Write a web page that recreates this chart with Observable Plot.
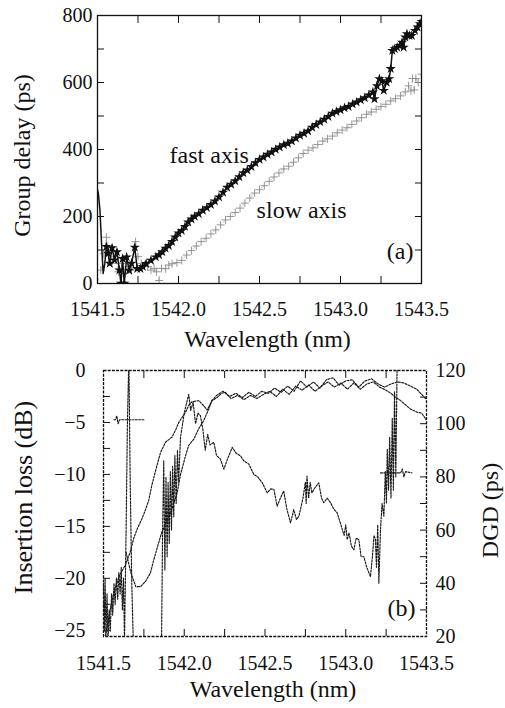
<!DOCTYPE html>
<html><head><meta charset="utf-8">
<script src="https://cdn.jsdelivr.net/npm/d3@7"></script>
<script src="https://cdn.jsdelivr.net/npm/@observablehq/plot@0.6"></script>
<style>
body{margin:0;background:#fff;}
#wrap{width:505px;height:708px;overflow:hidden;}
#wrap svg, #wrap svg text{font-family:"Liberation Serif","DejaVu Serif",serif !important;}
#b{position:relative;width:505px;height:353px;}
#b svg{position:absolute;left:0;top:0;}
</style></head><body>
<div id="wrap"><div id="a"></div><div id="b"></div></div>
<script>
// ---- Panel (a): group delay ----
const wlFast = [1541.500,1541.505,1541.515,1541.525,1541.535,1541.545,1541.555,1541.565,1541.575,1541.590,1541.605,1541.620,1541.635,1541.645,1541.655,1541.665,1541.680,1541.695,1541.710,1541.730,1541.745,1541.765,1541.780,1541.800,1541.830,1541.860,1541.880,1541.900,1541.920,1541.940,1541.960,1541.980,1542.000,1542.020,1542.040,1542.060,1542.080,1542.100,1542.125,1542.150,1542.175,1542.200,1542.225,1542.250,1542.275,1542.300,1542.325,1542.350,1542.375,1542.400,1542.425,1542.450,1542.475,1542.500,1542.525,1542.550,1542.575,1542.600,1542.625,1542.650,1542.675,1542.700,1542.725,1542.750,1542.775,1542.800,1542.825,1542.850,1542.875,1542.900,1542.925,1542.950,1542.975,1543.000,1543.025,1543.050,1543.075,1543.100,1543.125,1543.150,1543.175,1543.200,1543.210,1543.225,1543.240,1543.255,1543.267,1543.285,1543.300,1543.310,1543.320,1543.335,1543.350,1543.365,1543.380,1543.390,1543.400,1543.410,1543.425,1543.440,1543.460,1543.475,1543.490,1543.500];
const gdFast = [280,270,220,120,30,60,110,90,60,106,70,94,40,0,74,0,79,39,60,108,44,44,50,59,69,79,85,94,105,113,125,138,150,158,170,183,192,200,208,218,226,235,246,258,272,287,296,306,318,330,338,349,360,370,377,385,392,400,407,414,418,425,434,442,448,455,466,474,482,490,498,508,513,518,524,528,535,541,548,554,562,571,551,590,611,605,576,600,611,641,695,700,705,710,720,705,735,745,740,740,755,765,775,782];
const wlSlow = [1541.500,1541.520,1541.540,1541.555,1541.570,1541.590,1541.610,1541.630,1541.650,1541.670,1541.690,1541.710,1541.735,1541.750,1541.770,1541.790,1541.810,1541.830,1541.850,1541.865,1541.880,1541.895,1541.920,1541.940,1541.960,1541.990,1542.020,1542.050,1542.080,1542.110,1542.140,1542.170,1542.200,1542.230,1542.260,1542.290,1542.320,1542.350,1542.380,1542.410,1542.440,1542.470,1542.500,1542.530,1542.560,1542.590,1542.620,1542.650,1542.680,1542.710,1542.740,1542.770,1542.800,1542.830,1542.860,1542.890,1542.920,1542.950,1542.980,1543.010,1543.040,1543.070,1543.100,1543.130,1543.160,1543.190,1543.220,1543.250,1543.280,1543.310,1543.340,1543.370,1543.400,1543.420,1543.435,1543.445,1543.455,1543.465,1543.480,1543.500];
const gdSlow = [0,40,90,138,100,60,80,35,60,30,50,40,125,80,60,55,50,40,45,35,9,45,44,55,59,62,69,85,98,112,125,135,148,160,175,190,200,212,225,240,255,270,280,292,305,318,330,342,350,362,375,388,398,405,415,425,432,440,450,458,465,475,485,495,505,512,520,528,535,545,552,560,572,590,575,612,578,612,600,625];

// ---- Panel (b): insertion loss (left axis) and DGD (right axis) ----
const wlIL1 = [1541.510,1541.530,1541.550,1541.570,1541.600,1541.636,1541.667,1541.688,1541.710,1541.740,1541.760,1541.780,1541.800,1541.830,1541.853,1541.884,1541.925,1541.950,1541.966,1542.008,1542.030,1542.049,1542.090,1542.121,1542.142,1542.173,1542.204,1542.230,1542.255,1542.290,1542.330,1542.370,1542.410,1542.450,1542.490,1542.530,1542.570,1542.610,1542.650,1542.690,1542.730,1542.770,1542.810,1542.850,1542.890,1542.930,1542.970,1543.010,1543.050,1543.090,1543.130,1543.170,1543.210,1543.250,1543.280,1543.310,1543.340,1543.370,1543.400,1543.440,1543.470,1543.500];
const il1 = [-25.6,-24.0,-22.3,-21.0,-19.7,-18.7,-17.4,-16.1,-15.2,-14.2,-13.4,-12.5,-11.0,-9.2,-7.9,-6.9,-6.4,-5.6,-5.0,-4.0,-3.3,-3.0,-2.9,-3.4,-3.8,-2.9,-2.6,-2.2,-2.1,-2.7,-2.4,-2.8,-2.4,-2.7,-2.3,-2.0,-2.5,-1.8,-2.3,-1.5,-1.9,-1.4,-2.0,-1.5,-1.1,-1.6,-1.2,-1.8,-1.2,-1.8,-1.3,-1.1,-1.6,-1.9,-2.2,-2.6,-2.9,-3.3,-3.7,-4.0,-4.1,-4.8];
const wlIL2 = [1541.640,1541.670,1541.700,1541.730,1541.760,1541.790,1541.810,1541.830,1541.860,1541.915,1541.956,1541.977,1542.008,1542.028,1542.059,1542.090,1542.121,1542.152,1542.170,1542.200,1542.240,1542.280,1542.320,1542.360,1542.400,1542.440,1542.480,1542.520,1542.560,1542.600,1542.640,1542.680,1542.720,1542.760,1542.800,1542.840,1542.880,1542.920,1542.960,1543.000,1543.040,1543.080,1543.120,1543.160,1543.200,1543.240,1543.280,1543.320,1543.360,1543.400,1543.440,1543.470,1543.500];
const il2 = [-17.5,-19.5,-20.8,-20.8,-20.3,-19.5,-18.3,-17.2,-15.6,-13.7,-11.8,-10.0,-8.2,-7.2,-6.6,-5.6,-4.8,-3.7,-2.9,-2.4,-2.0,-2.5,-2.2,-2.6,-2.1,-2.5,-2.0,-2.2,-1.7,-2.1,-1.5,-2.0,-1.0,-1.6,-1.1,-1.7,-0.9,-0.7,-1.4,-1.0,-0.9,-1.6,-1.0,-0.8,-1.3,-1.6,-1.3,-1.1,-1.2,-1.5,-1.8,-2.3,-2.8];
const wlDGD = [1541.500,1541.505,1541.510,1541.515,1541.522,1541.528,1541.535,1541.542,1541.550,1541.557,1541.565,1541.572,1541.580,1541.588,1541.595,1541.603,1541.610,1541.617,1541.624,1541.630,1541.640,1541.648,1541.657,1541.665,1541.675,1541.688,1541.750,1541.858,1541.866,1541.873,1541.880,1541.887,1541.894,1541.900,1541.907,1541.914,1541.921,1541.928,1541.935,1541.942,1541.950,1541.958,1541.965,1541.977,1541.990,1542.000,1542.015,1542.028,1542.040,1542.055,1542.070,1542.085,1542.100,1542.115,1542.130,1542.145,1542.160,1542.183,1542.200,1542.224,1542.245,1542.270,1542.297,1542.320,1542.348,1542.370,1542.400,1542.430,1542.455,1542.483,1542.514,1542.535,1542.555,1542.575,1542.595,1542.616,1542.635,1542.658,1542.678,1542.695,1542.710,1542.735,1542.750,1542.755,1542.760,1542.770,1542.780,1542.790,1542.810,1542.833,1542.850,1542.864,1542.885,1542.906,1542.925,1542.947,1542.970,1542.990,1543.000,1543.009,1543.020,1543.035,1543.050,1543.065,1543.081,1543.095,1543.112,1543.130,1543.153,1543.165,1543.175,1543.184,1543.190,1543.198,1543.205,1543.215,1543.225,1543.236,1543.245,1543.252,1543.257,1543.265,1543.272,1543.280,1543.288,1543.295,1543.302,1543.310,1543.318,1543.330];
const dgd = [40,22,42,20,36,18,30,22,36,28,40,32,42,34,44,36,46,30,42,18,60,100,125,80,40,10,5,10,60,86,45,80,50,78,55,82,60,84,65,88,70,90,78,95,100,104,108,111,105,108,100,104,103,98,90,96,92,93,88,86.7,82.9,87,91.1,89,87.9,86,84.8,81,80,77.8,74,75.5,75.3,69,72,74.7,68,62.7,67.7,64,65.2,72,78,70,80.3,72,78,74,76,77.8,72,70.3,72,70.3,68,66.5,62,58,62,56.4,59,54,52.6,57,56.4,50,50,46,42.5,50,58,56.4,46,62,40,60,70,65.2,82,70,90.5,75,95,72,102,75,112,80,122,130];
const wlFlatL = [1541.564,1541.575,1541.582,1541.590,1541.600,1541.750];
const dgdFlatL = [101.5,101.5,103,100,101.5,101.5];
const wlFlatR = [1543.215,1543.340,1543.350,1543.360,1543.370,1543.410];
const dgdFlatR = [81.5,81.5,83,80,82,81.5];

// ---- Ticks ----
const xMajor = [1541.5,1542.0,1542.5,1543.0,1543.5];
const xMinor = [1541.75,1542.0,1542.25,1542.5,1542.75,1543.0,1543.25];
const gdMajor = [0,200,400,600,800];
const gdMinor = [100,200,300,400,500,600,700];
const ilMajor = [0,-5,-10,-15,-20,-25];
const ilMinor = [-2.5,-5,-7.5,-10,-12.5,-15,-17.5,-20,-22.5,-25];
const dgdMajor = [20,40,60,80,100,120];
const dgdMinor = [30,40,50,60,70,80,90,100,110];

const rows = (xs, ys) => xs.map((x, i) => ({wl: x, v: ys[i]}));
const FONT = "Liberation Serif";
const INK = "#111";
const tickOnly = {fill: "none", stroke: INK, tickSize: -7, label: null};
const lbl = (s, o) => Plot.text([s], {fill: INK, fontSize: 24, lineAnchor: "middle", textAnchor: "middle", ...o});

const topPlot = Plot.plot({
  width: 505, height: 355, marginLeft: 97, marginRight: 84, marginTop: 15, marginBottom: 72,
  style: {fontFamily: FONT, color: INK, background: "transparent"},
  x: {domain: [1541.5, 1543.5]},
  y: {domain: [0, 800]},
  marks: [
    Plot.axisX({ticks: xMajor, tickSize: 0, tickPadding: 18, tickFormat: d3.format(".1f"), fontSize: 20, label: null}),
    Plot.axisX({...tickOnly, ticks: xMinor}),
    Plot.axisX({...tickOnly, anchor: "top", ticks: xMinor}),
    Plot.axisY({ticks: gdMajor, tickSize: 0, tickPadding: 5, fontSize: 20, label: null}),
    Plot.axisY({...tickOnly, ticks: gdMinor}),
    Plot.axisY({...tickOnly, anchor: "right", ticks: gdMinor}),
    lbl("Wavelength (nm)", {frameAnchor: "bottom", dx: 8, dy: 56}),
    lbl("Group delay (ps)", {frameAnchor: "left", rotate: -90, dx: -75, dy: 6}),
    Plot.line(rows(wlSlow, gdSlow), {x: "wl", y: "v", stroke: "#bdbdbd", strokeWidth: 0.8, strokeDasharray: "5,8", clip: true}),
    Plot.dot(rows(wlSlow, gdSlow), {x: "wl", y: "v", symbol: "plus", r: 2.7, stroke: "#8c8c8c", strokeWidth: 0.9, clip: true}),
    Plot.line(rows(wlFast, gdFast), {x: "wl", y: "v", stroke: INK, strokeWidth: 1.5, clip: true}),
    Plot.dot(rows(wlFast, gdFast), {filter: d => d.wl >= 1541.55, x: "wl", y: "v", symbol: "star", r: 3.2, fill: INK, stroke: "none", clip: true}),
    Plot.text(["fast axis"], {x: 1542.19, y: 382, fontSize: 24, fill: INK}),
    Plot.text(["slow axis"], {x: 1542.76, y: 218, fontSize: 24, fill: INK}),
    Plot.text(["(a)"], {frameAnchor: "bottom-right", dx: -8, dy: -25, textAnchor: "end", fontSize: 24, fill: INK}),
    Plot.frame({stroke: INK, strokeWidth: 1.3})
  ]
});
document.getElementById("a").append(topPlot);

const lineStyle = {x: "wl", y: "v", stroke: "#1a1a1a", strokeWidth: 1.15, strokeDasharray: "2,1.4", clip: true};

const botPlot = Plot.plot({
  width: 505, height: 353, marginLeft: 103, marginRight: 79, marginTop: 15, marginBottom: 72,
  style: {fontFamily: FONT, color: INK, background: "transparent"},
  x: {domain: [1541.5, 1543.5]},
  y: {domain: [-25.6, 0]},
  marks: [
    Plot.axisX({ticks: xMajor, tickSize: 0, tickPadding: 19, tickFormat: d3.format(".1f"), fontSize: 20, label: null}),
    Plot.axisX({...tickOnly, ticks: xMinor}),
    Plot.axisX({...tickOnly, anchor: "top", ticks: xMinor}),
    Plot.axisY({ticks: ilMajor, tickSize: 0, tickPadding: 18, fontSize: 20, label: null}),
    Plot.axisY({...tickOnly, ticks: ilMinor}),
    lbl("Wavelength (nm)", {frameAnchor: "bottom", dx: 8, dy: 53}),
    lbl("Insertion loss (dB)", {frameAnchor: "left", rotate: -90, dx: -80, dy: -6, fontSize: 26}),
    Plot.line(rows(wlIL1, il1), lineStyle),
    Plot.line(rows(wlIL2, il2), lineStyle),
    Plot.text(["(b)"], {frameAnchor: "bottom-right", dx: -11, dy: -21, textAnchor: "end", fontSize: 24, fill: INK}),
    Plot.frame({stroke: INK, strokeWidth: 1.3, strokeDasharray: "3,1.2"})
  ]
});
const dgdPlot = Plot.plot({
  width: 505, height: 353, marginLeft: 103, marginRight: 79, marginTop: 15, marginBottom: 72,
  style: {fontFamily: FONT, color: INK, background: "transparent"},
  x: {domain: [1541.5, 1543.5], axis: null},
  y: {domain: [20, 120]},
  marks: [
    Plot.axisY({anchor: "right", ticks: dgdMajor, tickSize: 0, tickPadding: 9, fontSize: 20, label: null}),
    Plot.axisY({...tickOnly, anchor: "right", ticks: dgdMinor}),
    lbl("DGD (ps)", {frameAnchor: "right", rotate: -90, dx: 64, dy: 7}),
    Plot.line(rows(wlDGD, dgd), lineStyle),
    Plot.line(rows(wlFlatL, dgdFlatL), lineStyle),
    Plot.line(rows(wlFlatR, dgdFlatR), lineStyle)
  ]
});
document.getElementById("b").append(botPlot, dgdPlot);
</script></body></html>
